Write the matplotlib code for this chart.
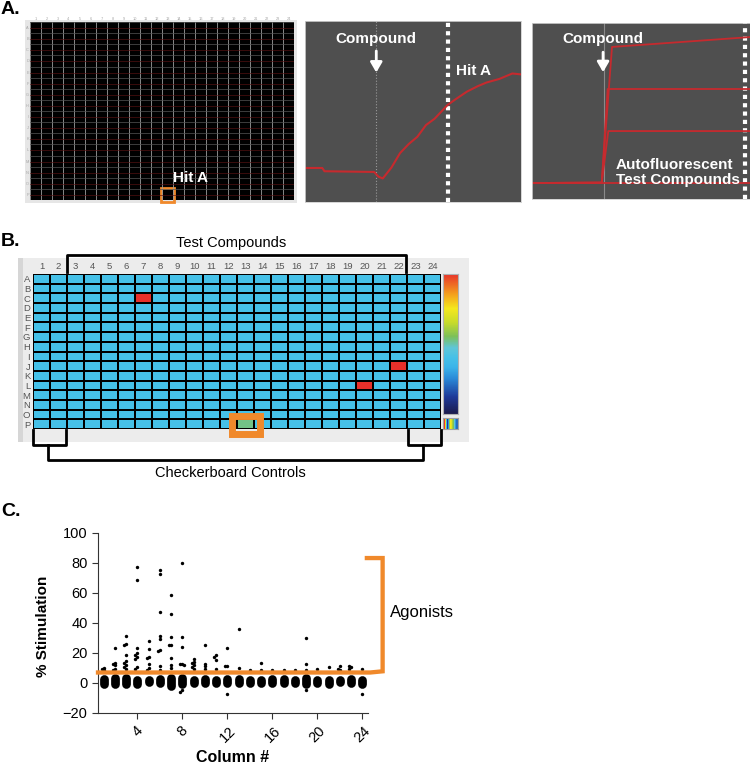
import matplotlib
matplotlib.use("Agg")
import matplotlib.pyplot as plt
from matplotlib.patches import Rectangle
from matplotlib.colors import LinearSegmentedColormap
import numpy as np

plt.rcParams['font.family'] = ['Liberation Sans', 'DejaVu Sans']

W, H = 750, 764

# ---- panel A: kinetic traces (time %, signal %) ----
compound_t = 33
hitA_t = [0, 8, 9, 32, 34, 36, 40, 44, 48, 52, 56, 60, 66, 70, 75, 80, 84, 90, 96, 100]
hitA_f = [18.8, 18.8, 17, 16.6, 14, 13, 19, 27, 32, 36, 42.5, 46, 53.6, 57, 61, 64, 66, 68, 71, 70.5]
auto_t = [[0, 32, 36.7, 55, 100], [0, 32, 34.7, 100], [0, 32, 35, 100], [0, 100]]
auto_f = [[9.1, 9.3, 86.4, 88, 92], [9.1, 9.3, 62.5, 62.5], [9.1, 9.3, 38.6, 38.6], [9.1, 9.1]]

# ---- panel B: plate map ----
rows = list('ABCDEFGHIJKLMNOP')
cols = list(range(1, 25))
well_base = 0.40
hit_rows = ['C', 'J', 'L', 'P']
hit_cols = [7, 22, 20, 13]
hit_levels = [1.0, 1.0, 1.0, 0.52]

# ---- panel C: % stimulation per column ----
col_num = list(range(1, 25))
blob_top = [5.5, 6.2, 6.2, 5.1, 5.1, 5.5, 6.2, 6.2, 5.1, 5.5, 5.1, 5.5,
            5.5, 5.1, 5.1, 5.5, 5.5, 5.1, 6.2, 5.1, 5.1, 5.1, 5.5, 5.1]
blob_bot = [-3.9, -3.5, -3.9, -3.5, -2.4, -3.0, -4.6, -3.5, -2.8, -3.2, -3.0, -3.0,
            -3.0, -2.8, -2.8, -2.8, -3.0, -3.0, -3.9, -2.8, -3.5, -2.4, -2.8, -3.5]
hit_col = [1, 1, 1,
           2, 2, 2, 2, 2, 2,
           3, 3, 3, 3, 3, 3, 3, 3, 3,
           4, 4, 4, 4, 4, 4, 4, 4, 4,
           5, 5, 5, 5, 5, 5, 5,
           6, 6, 6, 6, 6, 6, 6, 6, 6,
           7, 7, 7, 7, 7, 7, 7, 7,
           8, 8, 8, 8, 8, 8, 8, 8,
           9, 9, 9, 9, 9, 9,
           10, 10, 10, 10,
           11, 11, 11, 11,
           12, 12, 12, 12,
           13, 13, 14, 15, 15, 16, 17, 18,
           19, 19, 19, 19, 20, 21, 22, 22, 22, 23, 23, 23, 24, 24]
hit_val = [10.2, 9.2, 8.5,
           23.1, 13.5, 12.6, 11.8, 9.5, 9.0,
           31.3, 26.0, 25.1, 19.0, 15.0, 13.5, 12.0, 10.5, 9.5,
           77.1, 68.7, 23.1, 19.8, 18.7, 17.5, 16.0, 11.0, 9.5,
           28.2, 22.4, 17.5, 17.0, 12.4, 10.0, 9.0,
           75.3, 72.7, 47.6, 31.3, 29.1, 22.0, 21.3, 11.6, 9.0,
           58.6, 46.0, 30.4, 25.3, 25.3, 16.4, 12.0, 10.0,
           80.2, 30.9, 23.8, 13.0, 12.6, 12.0, -4.6, -5.7,
           15.8, 14.2, 13.1, 11.8, 10.5, 9.5,
           25.3, 13.0, 11.3, 9.5,
           18.7, 17.5, 15.3, 9.5,
           23.1, 11.3, 11.3, -7.0,
           36.2, 9.8, 8.8, 13.5, 8.5, 8.6, 8.6, 8.5,
           30.0, 12.9, 9.0, -4.4, 9.5, 10.9, 11.3, 8.8, 9.5, 10.9, 11.6, 9.5, 9.5, -7.3]
threshold = 7
agonist_top = 83.3


def box(x0, y0, x1, y1):
    return [x0 / W, 1 - y1 / H, (x1 - x0) / W, (y1 - y0) / H]


fig = plt.figure(figsize=(W / 100, H / 100), dpi=100)

bg = fig.add_axes([0, 0, 1, 1], zorder=-5)
bg.set_xlim(0, W)
bg.set_ylim(H, 0)
bg.axis('off')

ov = fig.add_axes([0, 0, 1, 1], zorder=10)
ov.set_xlim(0, W)
ov.set_ylim(H, 0)
ov.axis('off')
ov.patch.set_alpha(0)

orange = '#f0892b'
trace_red = '#c62a2e'
dark = '#4f4f4f'

# ---------------- A1: plate overview ----------------
bg.add_patch(Rectangle((25, 20), 272, 183, color='#e6e6e6', lw=0))
a1 = fig.add_axes(box(30, 22, 294, 200))
a1.set_facecolor('black')
a1.set_xlim(0, 24)
a1.set_ylim(16, 0)
for c in range(25):
    a1.axvline(c, color='#9c9c9c', lw=0.6)
for r in range(16):
    a1.axhline(r, color='#555555', lw=0.5)
    a1.axhline(r + 0.55, color='#5a1212', lw=0.45)
a1.set_xticks([c - 0.5 for c in cols])
a1.set_xticklabels(cols)
a1.set_yticks([r + 0.5 for r in range(16)])
a1.set_yticklabels(rows)
a1.xaxis.tick_top()
a1.tick_params(length=0, labelsize=2.8, colors='#a5a5a5', pad=0.8)
for s in a1.spines.values():
    s.set_visible(False)
a1.add_patch(Rectangle((11.95, 14.9), 1.1, 1.25, fill=False, ec=orange, lw=2, clip_on=False))
a1.text(14.6, 14.0, 'Hit A', color='white', fontsize=11, fontweight='bold', ha='center', va='center')

# ---------------- A2: hit trace ----------------
a2 = fig.add_axes(box(305, 21, 521, 202))
a2.set_facecolor(dark)
a2.set_xlim(0, 100)
a2.set_ylim(0, 100)
a2.set_xticks([])
a2.set_yticks([])
for s in a2.spines.values():
    s.set_color('#cfcfcf')
    s.set_linewidth(0.6)
a2.axvline(compound_t, color='#9a9a9a', lw=0.8, ls=':')
a2.axvline(66, color='white', lw=3, ls=(0, (1, 1)))
a2.plot(hitA_t, hitA_f, color=trace_red, lw=1.5)
a2.text(compound_t, 90, 'Compound', color='white', fontsize=11, fontweight='bold', ha='center', va='center')
a2.annotate('', xy=(compound_t, 70), xytext=(compound_t, 85),
            arrowprops=dict(arrowstyle='-|>,head_width=0.35,head_length=0.6', color='white', lw=2))
a2.text(77.8, 72.4, 'Hit A', color='white', fontsize=11, fontweight='bold', ha='center', va='center')

# ---------------- A3: autofluorescent traces ----------------
a3 = fig.add_axes(box(532, 23, 750, 199))
a3.set_facecolor(dark)
a3.set_xlim(0, 100)
a3.set_ylim(0, 100)
a3.set_xticks([])
a3.set_yticks([])
for s in a3.spines.values():
    s.set_color('#cfcfcf')
    s.set_linewidth(0.6)
a3.axvline(compound_t, color='#8a8a8a', lw=0.8)
a3.axvline(97.7, color='white', lw=3, ls=(0, (1, 1)))
for t, f in zip(auto_t, auto_f):
    a3.plot(t, f, color=trace_red, lw=1.3)
a3.text(32.6, 90.9, 'Compound', color='white', fontsize=11, fontweight='bold', ha='center', va='center')
a3.annotate('', xy=(32.6, 70.5), xytext=(32.6, 85),
            arrowprops=dict(arrowstyle='-|>,head_width=0.35,head_length=0.6', color='white', lw=2))
a3.text(38.5, 15, 'Autofluorescent\nTest Compounds', color='white', fontsize=11,
        fontweight='bold', ha='left', va='center', linespacing=1.05)

# ---------------- B: plate heat map ----------------
bg.add_patch(Rectangle((18, 258), 451, 184, color='#ececec', lw=0))
bg.add_patch(Rectangle((18, 258), 5, 184, color='#d6d6d6', lw=0))

cmap = LinearSegmentedColormap.from_list('plate', [
    (0.0, '#1c1c4e'), (0.12, '#1e3a9a'), (0.25, '#2a8ad8'), (0.33, '#3bb4ea'),
    (0.40, '#46c1e8'), (0.47, '#5fc6d8'), (0.55, '#7cc05a'), (0.65, '#c8dc2a'),
    (0.75, '#f5e81e'), (0.85, '#f4a21e'), (1.0, '#e8302a')])

plate = np.full((len(rows), len(cols)), well_base)
for r, c, v in zip(hit_rows, hit_cols, hit_levels):
    plate[rows.index(r), c - 1] = v

ab = fig.add_axes(box(33, 274, 441, 429))
ab.pcolormesh(np.arange(0.5, 25), np.arange(0.5, 17), plate, cmap=cmap, vmin=0, vmax=1,
              edgecolors='black', linewidth=1.3)
ab.set_xlim(0.5, 24.5)
ab.set_ylim(16.5, 0.5)
ab.set_xticks(cols)
ab.set_yticks(range(1, 17))
ab.set_yticklabels(rows)
ab.xaxis.tick_top()
ab.tick_params(length=0, labelsize=6.8, colors='#555555', pad=2)
for s in ab.spines.values():
    s.set_visible(False)

cb = fig.add_axes(box(443, 274, 458, 414))
cb.imshow(np.linspace(1, 0, 200).reshape(-1, 1), cmap=cmap, aspect='auto')
cb.set_xticks([])
cb.set_yticks([])
for s in cb.spines.values():
    s.set_color('#b0b0b0')

icon = fig.add_axes(box(443, 418, 458, 429))
icon.imshow(np.array([[1.0, 0.12, 0.75, 0.55, 0.2]]), cmap=cmap, vmin=0, vmax=1, aspect='auto')
icon.set_xticks([])
icon.set_yticks([])
for s in icon.spines.values():
    s.set_color('#a0a0a0')

# brackets and labels
ov.plot([67, 67, 406, 406], [272, 255, 255, 272], color='black', lw=2)
ov.plot([33, 33, 66, 66], [430, 445, 445, 430], color='black', lw=2)
ov.plot([408, 408, 441, 441], [430, 445, 445, 430], color='black', lw=2)
ov.plot([48, 48, 423, 423], [445, 460, 460, 445], color='black', lw=2)
ov.add_patch(Rectangle((231.5, 415.5), 28, 18, fill=False, ec=orange, lw=5))
ov.text(231, 243, 'Test Compounds', fontsize=10.5, ha='center', va='center')
ov.text(230, 473, 'Checkerboard Controls', fontsize=10.5, ha='center', va='center')

# ---------------- C: scatter ----------------
ac = fig.add_axes(box(98, 533, 368, 713))
blob_lw = 6.3
cap = blob_lw / 2 * 100 / 72 * 120 / 180
for c, lo, hi in zip(col_num, blob_bot, blob_top):
    ac.plot([c, c], [lo + cap, hi - cap], color='black', lw=blob_lw, solid_capstyle='round', zorder=2)

# spread overlapping points sideways like a dot plot
xs = []
placed = {}
for c, v in zip(hit_col, hit_val):
    for off in [0, -0.18, 0.18, -0.36, 0.36]:
        if all(abs(v - pv) > 1.6 for pc, po, pv in placed.get(c, []) if po == off):
            break
    placed.setdefault(c, []).append((c, off, v))
    xs.append(c + off)
ac.scatter(xs, hit_val, s=6, c='black', lw=0, zorder=3)

ac.plot([0.5, 24.7, 25.8, 25.8, 24.4], [threshold, threshold, threshold + 0.8, agonist_top, agonist_top],
        color=orange, lw=3.1, clip_on=False, zorder=4, solid_joinstyle='miter')

ac.set_xlim(0.5, 24.5)
ac.set_ylim(-20, 100)
ac.set_yticks(range(-20, 101, 20))
ac.set_xticks(range(4, 25, 4))
ac.spines['top'].set_visible(False)
ac.spines['right'].set_visible(False)
for s in ['left', 'bottom']:
    ac.spines[s].set_linewidth(0.8)
    ac.spines[s].set_color('#333333')
ac.tick_params(labelsize=10.5, length=4, width=0.8, color='#333333')
plt.setp(ac.get_xticklabels(), rotation=45, ha='center')

ov.text(390, 613, 'Agonists', fontsize=12, ha='left', va='center')
ov.text(43, 626, '% Stimulation', fontsize=11, fontweight='bold', rotation=90, ha='center', va='center')
ov.text(233, 757, 'Column #', fontsize=11.5, fontweight='bold', ha='center', va='center')

# panel letters
ov.text(1, 10, 'A.', fontsize=14, fontweight='bold', ha='left', va='center')
ov.text(1, 241, 'B.', fontsize=14, fontweight='bold', ha='left', va='center')
ov.text(1, 512, 'C.', fontsize=14, fontweight='bold', ha='left', va='center')

fig.savefig('out.png', dpi=100)
